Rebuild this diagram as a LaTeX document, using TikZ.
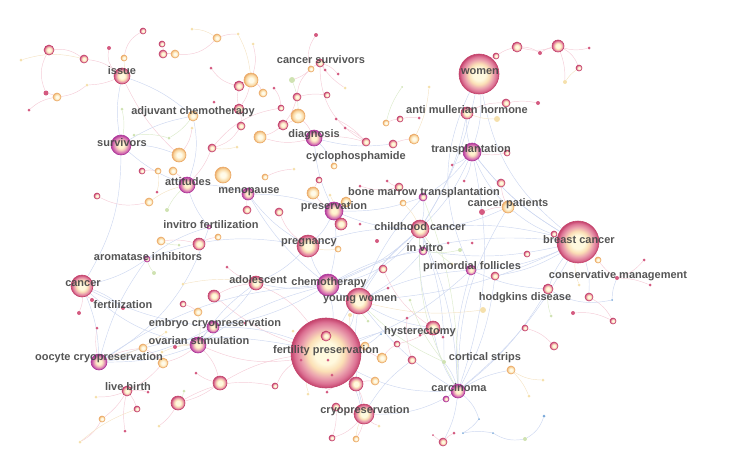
\documentclass[tikz,border=0pt]{standalone}
\usepackage{fontspec}
\setmainfont{Liberation Sans}
\definecolor{rA}{HTML}{FFF9DE}\definecolor{rB}{HTML}{FBE0B6}\definecolor{rC}{HTML}{EBA2AE}\definecolor{rE}{HTML}{DC7294}\definecolor{rD}{HTML}{C4436C}
\definecolor{pA}{HTML}{FFF4D0}\definecolor{pB}{HTML}{F6D0BC}\definecolor{pC}{HTML}{E192B8}\definecolor{pE}{HTML}{D065AC}\definecolor{pD}{HTML}{AE389A}
\definecolor{cA}{HTML}{FFFBEA}\definecolor{cB}{HTML}{FCE6BC}\definecolor{cC}{HTML}{F6CF96}\definecolor{cD}{HTML}{EBAA68}
\definecolor{dotD}{HTML}{D45A80}\definecolor{dotG}{HTML}{CFE2B2}\definecolor{dotB}{HTML}{7BA9DA}\definecolor{dotY}{HTML}{F5E0AC}
\definecolor{lnP}{HTML}{F5CCD7}\definecolor{lnB}{HTML}{CDD7F0}\definecolor{lnG}{HTML}{DCEBCB}\definecolor{lnY}{HTML}{F5E4C6}
\definecolor{labgray}{HTML}{474747}
\pgfdeclareradialshading{kwred}{\pgfpoint{0bp}{0bp}}{color(0bp)=(rA); color(8bp)=(rA); color(13bp)=(rB); color(18bp)=(rC); color(22bp)=(rE); color(25bp)=(rD); color(50bp)=(rD)}
\pgfdeclareradialshading{kwpur}{\pgfpoint{0bp}{0bp}}{color(0bp)=(pA); color(7bp)=(pA); color(12bp)=(pB); color(17bp)=(pC); color(21bp)=(pE); color(25bp)=(pD); color(50bp)=(pD)}
\pgfdeclareradialshading{kwcre}{\pgfpoint{0bp}{0bp}}{color(0bp)=(cA); color(8bp)=(cA); color(15bp)=(cB); color(21bp)=(cC); color(25bp)=(cD); color(50bp)=(cD)}
\pgfdeclarelayer{bg}
\pgfsetlayers{bg,main}
\tikzset{
 kR/.style={circle,inner sep=0pt,minimum size={2*#1},shading=kwred,draw=rD,line width=0.6pt},
 kP/.style={circle,inner sep=0pt,minimum size={2*#1},shading=kwpur,draw=pD,line width=0.6pt},
 kC/.style={circle,inner sep=0pt,minimum size={2*#1},shading=kwcre,draw=cD,line width=0.6pt},
 kD/.style={circle,inner sep=0pt,minimum size={2*#1},fill=dotD},
 kG/.style={circle,inner sep=0pt,minimum size={2*#1},fill=dotG},
 kB/.style={circle,inner sep=0pt,minimum size={2*#1},fill=dotB},
 kY/.style={circle,inner sep=0pt,minimum size={2*#1},fill=dotY},
 ep/.style={draw=lnP,line width=0.45pt},
 eb/.style={draw=lnB,line width=0.45pt},
 eg/.style={draw=lnG,line width=0.45pt},
 ey/.style={draw=lnY,line width=0.45pt},
 lab/.style={font=\bfseries\fontsize{11}{12}\selectfont,text=labgray,inner sep=0pt,opacity=0.92}
}
\newcommand{\kwnodes}[1]{\foreach \n/\x/\y/\r/\t in {#1}{\edef\kwtmp{\noexpand\node[k\t=\r] (\n) at (\x,\y) {};}\kwtmp}}
\begin{document}
\begin{tikzpicture}[x=1pt,y=-1pt]
\useasboundingbox (0,0) rectangle (733,472);
% main keyword nodes
\kwnodes{fp/326/353/35/R, bc/578/242/21/R, wo/479/74/20/R, yw/359/301/13/R, ch/328/285/11/P, pr/308/246/11/R, ca/82/286/11/R, su/121/145/10/P, cr/364/414/10/R, cc/420/229/9/R, pres/334/211/9/P, tr/472/152/9/P, ci/458/391/7/P, is/122/76/8/R, oc/99/362/8/P, di/314/138/8/P, at/187/185/8/P, os/198/345/8/P, ec/213/327/6/P, me/248/194/6/P, ad/256/283/7/R, hy/433/328/7/R, pf/471/270/5/P, iv/423/251/4/P, lb/127/391/5/R, cs/444/362/2/G, cp/508/207/6/C, hd/548/289/5/R, am/467/113/6/R, csu/320/63/4/R, adj/193/116/5/C, ai/147/259/3/P, fe/123/308/2/D, ivf/209/227/2/P, cy/334/166/3/C, bmt/423/197/4/P, cm/617/278/2/D}
% other nodes
\kwnodes{x1/49/50/5/R, x2/84/59/4/R, x3/21/60/1.5/Y, x4/109/48/2/D, x5/124/58/3/C, x6/143/31/3/R, x7/162/44/3/R, x8/163/54/4/R, x9/175/54/4/C, x10/192/29/1.5/Y, x11/217/38/4/C, x12/238/34/1.5/Y, x13/46/93/2.5/D, x14/57/97/4/C, x15/29/110/1.5/D, x16/87/85/1.5/Y, x17/211/68/1.5/D, x18/214/102/1.5/D, x19/239/86/5/R, x20/251/80/7/C, x21/239/109/5/R, x22/241/126/4/R, x23/212/148/4/R, x24/179/155/7/C, x25/237/147/1.5/Y, x26/122/109/1.5/G, x27/134/135/1.5/G, x28/169/138/1.5/G, x29/192/128/1.5/Y}
\kwnodes{x30/316/35/2/D, x31/253/44/1.5/Y, x32/311/69/3/C, x33/325/70/1.5/D, x34/338/74/1.5/D, x35/292/80/3/G, x36/345/88/1.5/Y, x37/274/88/1.5/D, x38/263/93/4/C, x39/297/97/4/R, x40/327/95/3/R, x41/281/108/3/R, x42/298/116/7/C, x43/283/125/5/R, x44/260/137/6/C, x45/336/119/1.5/D, x46/345/128/1.5/D, x47/366/142/4/R, x48/386/123/3/C, x49/400/119/3/R, x50/419/118/1.5/D, x51/402/87/1/G, x52/429/87/1.5/Y, x53/393/144/4/R, x54/414/139/5/C, x55/497/119/3/Y}
\kwnodes{x56/496/56/3/R, x57/517/47/5/R, x58/540/53/2/D, x59/558/46/6/R, x60/589/48/1.5/D, x61/579/68/3/R, x62/565/82/2/Y, x63/506/103/4/R, x64/538/103/2/D, x65/507/153/3/R}
\kwnodes{x66/142/171/3/R, x67/158/171/3/C, x68/173/171/4/C, x69/223/175/8/C, x70/97/196/3/R, x71/149/202/4/C, x72/157/192/1.5/D, x73/167/210/2/G, x74/247/210/4/R, x75/161/241/4/C, x76/199/244/6/R, x77/218/237/3/C, x78/179/245/1.5/G, x79/154/273/2/G, x80/183/284/1.5/Y, x81/227/267/1.5/D, x82/214/296/6/R, x83/92/300/2/D, x84/79/313/2/D, x86/183/304/3/R, x87/198/312/4/C}
\kwnodes{x88/313/193/6/C, x89/319/180/3/R, x90/265/177/3/C, x91/294/169/1.5/Y, x92/279/212/4/R, x93/346/202/5/C, x94/341/224/6/R, x95/360/224/1.5/D, x96/330/195/1.5/Y, x97/360/186/1.5/D, x98/387/181/1.5/D, x99/399/187/4/R, x100/403/203/3/C, x101/452/165/1.5/D, x102/464/181/1.5/D, x103/482/212/3/D, x104/377/241/2/D, x105/338/249/3/C, x106/448/243/1.5/D, x107/460/250/2/G, x108/472/243/1.5/D, x109/383/269/4/R, x110/452/264/1.5/Y, x111/495/276/4/R, x112/483/310/3/Y, x113/388/288/1.5/D, x114/410/300/1.5/G, x115/350/315/2/Y}
\kwnodes{x116/501/183/4/R, x117/554/234/3/R, x118/527/254/3/R, x119/598/260/3/C, x120/644/260/1.5/D, x121/650/285/1.5/D, x122/579/285/1.5/Y, x123/589/297/4/R, x124/612/300/1/B, x125/551/316/1.5/G, x126/573/313/2/D, x127/613/321/3/R, x128/525/328/3/R, x129/554/346/4/R, x130/511/370/4/C, x131/543/380/1.5/Y, x132/529/396/1.5/Y, x133/544/416/1.5/B, x134/493/433/1/B, x135/525/439/2/G}
\kwnodes{x136/97/328/1.5/D, x137/143/348/4/C, x138/166/332/1.5/Y, x139/162/352/1.5/Y, x140/175/347/2/D, x141/245/323/1.5/D, x142/163/363/5/C, x143/220/383/7/R, x144/178/403/7/R, x145/137/409/3/R, x146/96/397/1.5/Y, x147/102/419/3/C, x148/80/442/1.5/Y, x149/125/431/1.5/D, x150/159/426/1.5/Y, x151/196/373/1.5/D, x152/184/391/1.5/G, x153/148/392/1.5/D}
\kwnodes{x154/326/336/5/R, x155/328/360/1.5/D, x156/301/360/1.5/D, x157/332/375/1.5/D, x158/275/386/3/R, x159/293/331/1.5/Y, x160/365/346/4/C, x161/356/384/7/R, x162/375/381/4/C, x163/382/358/5/C, x164/397/344/3/R, x165/412/360/4/R, x166/381/334/1/B, x167/420/335/1.5/D, x168/443/337/1.5/D, x169/327/392/1.5/D, x170/308/394/1.5/Y, x171/336/407/4/R, x172/379/426/1.5/Y, x173/332/438/3/R, x174/356/439/3/C, x175/446/399/3/P, x176/443/442/4/R, x177/454/433/1.5/D, x178/433/435/1/D, x179/479/419/1/B, x180/463/433/1/B, x181/368/321/1.5/G, x182/407/318/1.5/D}
% connectors
\begin{pgfonlayer}{bg}
\foreach \a/\b/\d in {x1/x2/20, x1/x13/-25, x2/is/15, x4/is/-30, x5/x6/25, x7/x8/10, x8/x9/10, x9/x11/-25, x11/x12/10, x14/x16/-15, x16/is/-10, x15/x14/15, x13/x14/10, x17/x19/-20, x19/x20/10, x20/x21/10, x19/x21/-10, x21/x22/10, x22/x23/20, x24/x29/-15, x20/x38/15, x30/x32/-25, x32/csu/10, csu/x33/10, csu/x34/15, x32/x35/10, x32/x39/-20, x39/x43/10, x37/x41/15, x39/x40/10, x42/x43/10, x43/x44/10, x44/di/-15, x45/x47/10, x46/x47/10, csu/x47/-30, x41/x23/-20, x42/di/10, x31/x20/15, x36/csu/10, wo/x56/10, x56/x57/10, x57/x58/15, x58/x59/10, x57/x59/-15, x59/x60/-15, x59/x61/20, x59/x62/10, am/x63/15, x63/x64/10, x53/x54/10, x49/x50/10, x48/x49/10, x99/x98/10, x99/x97/15, fp/x158/-15, fp/x156/10, fp/x169/10, fp/x161/10, x161/x162/10, x161/cr/10, cr/x171/10, cr/x173/15, cr/x174/10, cr/x172/-10, x171/x173/10, fp/x163/10, x163/x164/10, x164/hy/-10, hy/x167/10, hy/x168/10, fp/os/15, os/x142/10, os/x143/15, x143/x144/10, x144/x150/10, lb/x145/10, lb/x147/10, lb/x146/10, lb/x149/-10, x147/x148/15, lb/x142/-10, lb/x153/10, oc/x136/10, oc/x137/10, x137/x142/10, bc/x117/10, bc/x119/10, x119/cm/-10, cm/x120/-15, cm/x121/10, x123/x127/15, x127/x126/-15, x128/x129/15, x65/tr/10, x103/cp/10, x116/cp/-10, x74/me/10, x76/x77/10, x75/x76/10, x82/ad/10, x86/x87/10, x66/x67/10, x68/at/10, x70/x71/-20, pr/x92/15, pres/x93/10, pres/x94/10, x88/x89/10, x90/x91/10, ad/x81/10, x84/ca/-10, x83/ca/10, x175/ci/10, x176/x177/10, x176/x178/10, x165/x182/10, x143/x151/10, hy/x109/15, x158/x144/-20, fp/ad/-15, fp/x82/10, fp/x143/-10, is/x24/-10, x23/at/10, di/x47/10, pres/x88/10}
  \draw[ep] (\a) to[bend left=\d] (\b);
\foreach \a/\b/\d in {wo/tr/10, wo/bc/-20, wo/cc/10, tr/cc/10, tr/bc/-10, tr/am/10, bc/cp/10, bc/pf/10, bc/hd/-10, bc/x111/10, bc/iv/10, bc/cc/-10, bc/ch/-15, bc/yw/10, bc/ci/10, bc/x123/10, ci/cc/-10, ci/hy/10, ci/tr/-15, ci/yw/10, ci/x179/15, x179/x180/10, x180/x134/10, x134/x135/-20, x135/x133/-20, ci/x176/10, cc/iv/10, cc/pres/10, cc/yw/-10, cc/ch/10, cc/fp/-10, pres/pr/10, pres/ch/10, pres/me/-10, pres/di/10, di/cy/10, di/x53/-10, yw/ch/10, yw/fp/10, ch/fp/10, ch/ad/10, ch/oc/-15, ch/ec/10, ch/os/-10, ch/pr/10, pr/ad/10, pr/me/10, ad/ec/10, ad/os/-10, ivf/at/10, ivf/ai/-10, ai/ca/10, ai/oc/-10, ca/oc/10, ca/su/-15, ca/fe/10, su/is/10, su/adj/10, su/at/-10, su/x24/10, adj/at/15, at/me/10, oc/ec/-10, oc/os/-10, oc/fp/15, os/ec/10, ec/fp/10, hy/yw/10, hy/cc/10, cs/ci/10, cs/cc/-10, fp/cr/10, cr/ci/-15, cr/yw/10, hd/ci/10, hd/pf/10, hd/x124/-20, x124/cm/10, bmt/cc/10, bmt/tr/-10, bmt/pres/10, am/cc/10, cp/tr/10, cp/cc/10, tr/x101/10, tr/x102/10, ch/me/10, yw/pf/10, fp/pf/-10, ca/ec/-10, ca/os/-15, ai/pr/15, fp/hy/10, ch/cc/-20, pr/cc/10, yw/iv/-10, x130/ci/-10, oc/ivf/-20, ch/iv/10, fp/ci/-15, is/adj/10, wo/pf/-25, x166/fp/10, ci/pf/10, ci/x111/-10, ci/cp/15, cr/x165/10, yw/bmt/10, bc/tr/10}
  \draw[eb] (\a) to[bend left=\d] (\b);
\foreach \a/\b/\d in {adj/x28/10, x26/su/10, x27/x28/10, x110/cc/10, cs/x114/10, x107/iv/10, x181/yw/10, x125/hd/10, x87/os/10, x73/at/10, x79/ai/10, x78/x75/10, x152/x144/10, x35/x42/10, x51/x48/-10, ci/cc/15, ci/bmt/-10, cs/yw/10}
  \draw[eg] (\a) to[bend left=\d] (\b);
\foreach \a/\b/\d in {x10/x11/15, x3/x2/15, x5/is/10, x12/x20/10, x55/am/10, x62/x61/10, x122/bc/10, x130/x131/-15, x130/x132/10, x112/yw/10, x115/fp/10, x170/fp/10, x174/cr/10, x138/oc/10, x139/os/10, x140/os/10, x80/ad/10, x67/x72/10, x71/at/10, x52/x54/10, x105/pr/10, x100/cc/10, x96/pres/10, x25/x23/10, x148/x145/10}
  \draw[ey] (\a) to[bend left=\d] (\b);
\end{pgfonlayer}
% labels
\node[lab] (Lis)  at (122,71)  {issue};
\node[lab] (Lcsu) at (321,60)  {cancer survivors};
\node[lab] (Lwo)  at (480,72)  {women};
\node[lab] (Ladj) at (193,112) {adjuvant chemotherapy};
\node[lab] (Lam)  at (467,110) {anti mullerian hormone};
\node[lab] (Ldi)  at (314,135) {diagnosis};
\node[lab] (Lsu)  at (122,143) {survivors};
\node[lab] (Lcy)  at (356,157) {cyclophosphamide};
\node[lab] (Ltr)  at (471,150) {transplantation};
\node[lab] (Lat)  at (188,182) {attitudes};
\node[lab] (Lme)  at (249,192) {menopause};
\node[lab] (Lbmt) at (424,193) {bone marrow transplantation};
\node[lab] (Lcp)  at (508,204) {cancer patients};
\node[lab] (Lpres) at (334,207) {preservation};
\node[lab] (Livf) at (211,225) {invitro fertilization};
\node[lab] (Lcc)  at (420,227) {childhood cancer};
\node[lab] (Lbc)  at (579,240) {breast cancer};
\node[lab] (Lpr)  at (309,243) {pregnancy};
\node[lab] (Liv)  at (425,248) {in vitro};
\node[lab] (Lai)  at (148,257) {aromatase inhibitors};
\node[lab] (Lpf)  at (472,267) {primordial follicles};
\node[lab] (Lcm)  at (618,276) {conservative management};
\node[lab] (Lca)  at (83,284)  {cancer};
\node[lab] (Lad)  at (258,280) {adolescent};
\node[lab] (Lch)  at (329,283) {chemotherapy};
\node[lab] (Lhd)  at (525,298) {hodgkins disease};
\node[lab] (Lfe)  at (123,305) {fertilization};
\node[lab] (Lyw)  at (360,300) {young women};
\node[lab] (Lec)  at (215,324) {embryo cryopreservation};
\node[lab] (Lhy)  at (420,332) {hysterectomy};
\node[lab] (Los)  at (199,341) {ovarian stimulation};
\node[lab] (Lfp)  at (326,351) {fertility preservation};
\node[lab] (Loc)  at (99,358)  {oocyte cryopreservation};
\node[lab] (Lcs)  at (485,358) {cortical strips};
\node[lab] (Llb)  at (128,387) {live birth};
\node[lab] (Lci)  at (459,388) {carcinoma};
\node[lab] (Lcr)  at (365,411) {cryopreservation};
\end{tikzpicture}
\end{document}
